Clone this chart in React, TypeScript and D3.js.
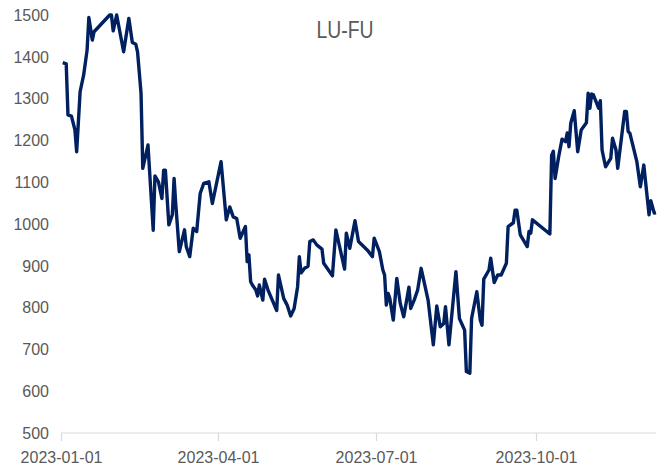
import React from "react";
import * as d3 from "d3";

const TITLE = "LU-FU";

const dates: string[] = [
  "2023-01-02","2023-01-04","2023-01-05","2023-01-07","2023-01-09","2023-01-10","2023-01-12","2023-01-14","2023-01-16","2023-01-17","2023-01-19","2023-01-20",
  "2023-01-29","2023-01-30","2023-01-31","2023-02-02","2023-02-06","2023-02-09","2023-02-11","2023-02-13","2023-02-14","2023-02-16","2023-02-17","2023-02-20","2023-02-23","2023-02-24","2023-02-26","2023-02-28",
  "2023-03-01","2023-03-02","2023-03-04","2023-03-06","2023-03-07","2023-03-08","2023-03-10","2023-03-13","2023-03-14","2023-03-16","2023-03-18","2023-03-20","2023-03-22","2023-03-24","2023-03-27","2023-03-29",
  "2023-04-03","2023-04-06","2023-04-08","2023-04-10","2023-04-12","2023-04-14","2023-04-17","2023-04-18","2023-04-19","2023-04-20","2023-04-21","2023-04-23","2023-04-24","2023-04-25","2023-04-27","2023-04-28","2023-04-30",
  "2023-05-05","2023-05-06","2023-05-09","2023-05-11","2023-05-13","2023-05-15","2023-05-17","2023-05-18","2023-05-19","2023-05-21","2023-05-23","2023-05-24","2023-05-26","2023-05-28","2023-05-31",
  "2023-06-01","2023-06-06","2023-06-08","2023-06-13","2023-06-14","2023-06-16","2023-06-19","2023-06-21","2023-06-26","2023-06-29","2023-06-30",
  "2023-07-03","2023-07-05","2023-07-06","2023-07-07","2023-07-08","2023-07-09","2023-07-11","2023-07-13","2023-07-15","2023-07-17","2023-07-20","2023-07-21","2023-07-23","2023-07-25","2023-07-27","2023-07-31",
  "2023-08-03","2023-08-05","2023-08-07","2023-08-09","2023-08-10","2023-08-12","2023-08-16","2023-08-18","2023-08-21","2023-08-22","2023-08-24","2023-08-25","2023-08-28","2023-08-30","2023-08-31",
  "2023-09-01","2023-09-04","2023-09-05","2023-09-07","2023-09-09","2023-09-11","2023-09-14","2023-09-15","2023-09-18","2023-09-19","2023-09-20","2023-09-22","2023-09-26","2023-09-27","2023-09-28","2023-09-29",
  "2023-10-09","2023-10-10","2023-10-11","2023-10-12","2023-10-14","2023-10-16","2023-10-18","2023-10-19","2023-10-20","2023-10-21","2023-10-23","2023-10-25","2023-10-27","2023-10-30","2023-10-31",
  "2023-11-01","2023-11-02","2023-11-03","2023-11-06","2023-11-07","2023-11-08","2023-11-10","2023-11-13","2023-11-14","2023-11-16","2023-11-17","2023-11-21","2023-11-22","2023-11-23","2023-11-24","2023-11-28","2023-11-30",
  "2023-12-02","2023-12-05","2023-12-06","2023-12-08","2023-12-09",
];

const values: number[] = [
  1386,1383,1261,1258,1225,1173,1317,1356,1416,1494,1440,1460,
  1500,1500,1462,1500,1412,1492,1434,1430,1412,1313,1133,1189,985,1115,1101,1061,
  1129,1129,998,1022,1109,1045,934,986,946,922,990,982,1073,1097,1101,1049,
  1149,1010,1041,1017,1013,966,994,910,926,862,854,842,828,854,818,868,842,
  793,878,822,806,780,798,850,922,883,894,899,958,962,950,940,
  906,876,986,892,978,942,1008,958,938,922,966,
  934,890,878,806,834,822,770,870,810,778,849,798,818,842,894,818,
  711,804,754,762,802,711,886,774,746,647,643,774,838,770,758,
  868,890,918,860,878,878,906,994,1003,1033,1033,974,946,982,978,1010,
  976,1164,1174,1109,1160,1203,1197,1218,1185,1241,1271,1173,1225,1242,1313,
  1277,1311,1309,1277,1295,1177,1137,1157,1205,1177,1133,1269,1269,1221,1217,1149,1089,
  1141,1022,1056,1026,1027,
];

const yTicks: number[] = [500, 600, 700, 800, 900, 1000, 1100, 1200, 1300, 1400, 1500];
const xTickLabels: string[] = ["2023-01-01", "2023-04-01", "2023-07-01", "2023-10-01"];
const xDomain: string[] = ["2023-01-01", "2023-12-09"];
const yDomain: number[] = [500, 1500];

export default function App() {
  const W = 665;
  const H = 470;
  const left = 61;
  const right = 656;
  const top = 15;
  const bottom = 433;
  const parse = d3.utcParse("%Y-%m-%d");
  const x = d3
    .scaleUtc()
    .domain([parse(xDomain[0]) as Date, parse(xDomain[1]) as Date])
    .range([left, right]);
  const y = d3.scaleLinear().domain(yDomain).range([bottom, top]);
  const data = dates.map((d, i) => ({ date: parse(d) as Date, value: values[i] }));
  const line = d3
    .line<{ date: Date; value: number }>()
    .x((d) => x(d.date))
    .y((d) => y(d.value));
  const font = "'Liberation Sans', Arial, sans-serif";
  const gray = "#595959";

  return (
    <div style={{ position: "absolute", left: 0, top: 0 }}>
      <svg width={W} height={H} style={{ display: "block", background: "#fff" }}>
        <rect x={0} y={0} width={W} height={H} fill="#fff" />
        <text
          x={345}
          y={38}
          textAnchor="middle"
          fontFamily={font}
          fontSize={23}
          fill={gray}
          textLength={57}
          lengthAdjust="spacingAndGlyphs"
        >
          {TITLE}
        </text>
        {yTicks.map((t) => (
          <text
            key={t}
            x={49}
            y={y(t)}
            dy="0.36em"
            textAnchor="end"
            fontFamily={font}
            fontSize={16}
            fill={gray}
          >
            {t}
          </text>
        ))}
        <line x1={left} x2={right} y1={bottom} y2={bottom} stroke="#d9d9d9" strokeWidth={1.2} />
        {xTickLabels.map((s) => {
          const px = Math.round(x(parse(s) as Date)) + 0.5;
          return (
            <g key={s}>
              <line x1={px} x2={px} y1={bottom} y2={bottom + 8} stroke="#d9d9d9" strokeWidth={1.2} />
              <text
                x={px}
                y={463}
                textAnchor="middle"
                fontFamily={font}
                fontSize={16}
                fill={gray}
              >
                {s}
              </text>
            </g>
          );
        })}
        <path
          d={line(data) || ""}
          fill="none"
          stroke="#002060"
          strokeWidth={3.4}
          strokeLinejoin="round"
          strokeLinecap="butt"
        />
      </svg>
    </div>
  );
}
